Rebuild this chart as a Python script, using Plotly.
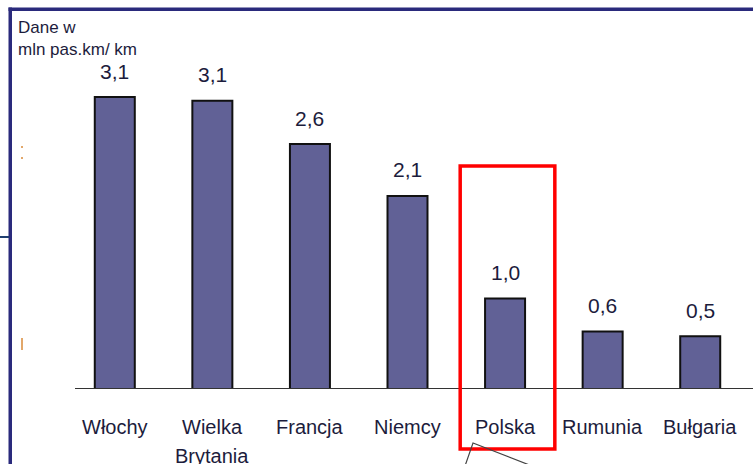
import plotly.graph_objects as go

categories = ["Włochy", "Wielka<br>Brytania", "Francja", "Niemcy", "Polska", "Rumunia", "Bułgaria"]
values = [3.1, 3.06, 2.6, 2.05, 0.96, 0.61, 0.56]
value_labels = ["3,1", "3,1", "2,6", "2,1", "1,0", "0,6", "0,5"]
title_lines = ["Dane w", "mln pas.km/ km"]
highlight = "Polska"

W, H = 753, 464
FONT = "Liberation Sans, Arial, sans-serif"
TXT = "#1c1c3c"
NAVY = "#2a2a7c"


def px(x):
    return x / W


def py(y):
    return 1 - y / H


x_idx = list(range(len(categories)))

fig = go.Figure()
fig.add_trace(go.Bar(
    x=x_idx, y=values, width=0.41,
    marker=dict(color="#616196", line=dict(color="#111111", width=2)),
    hoverinfo="skip",
))

annotations = []
for i, (v, lab) in enumerate(zip(values, value_labels)):
    annotations.append(dict(x=i, y=v, xref="x", yref="y", text=lab, showarrow=False,
                            yanchor="middle", yshift=26,
                            font=dict(family=FONT, size=21, color=TXT)))
for i, c in enumerate(categories):
    for k, line in enumerate(c.split("<br>")):
        annotations.append(dict(x=i, y=0, xref="x", yref="y", text=line, showarrow=False,
                                yanchor="middle", yshift=-38 - 29 * k,
                                font=dict(family=FONT, size=20, color=TXT)))
annotations.append(dict(x=px(16), y=py(16), xref="paper", yref="paper",
                        text="<br>".join(title_lines), showarrow=False,
                        xanchor="left", yanchor="top", align="left",
                        font=dict(family=FONT, size=17, color=TXT)))

hi = categories.index(highlight)
shapes = [
    # frame: top edge and left edge
    dict(type="rect", xref="paper", yref="paper", x0=px(8.5), x1=1, y0=py(11), y1=py(7.5),
         line=dict(width=0), fillcolor=NAVY, layer="above"),
    dict(type="rect", xref="paper", yref="paper", x0=px(8.5), x1=px(12), y0=0, y1=py(7.5),
         line=dict(width=0), fillcolor=NAVY, layer="above"),
    dict(type="line", xref="paper", yref="paper", x0=0, x1=px(9), y0=py(237), y1=py(237),
         line=dict(color="#1f3f6f", width=2)),
    dict(type="line", xref="paper", yref="paper", x0=px(22), x1=px(22), y0=py(338), y1=py(350),
         line=dict(color="#e2a76a", width=2)),
    dict(type="line", xref="paper", yref="paper", x0=px(22), x1=px(22), y0=py(146), y1=py(148),
         line=dict(color="#e2a76a", width=2)),
    dict(type="line", xref="paper", yref="paper", x0=px(22), x1=px(22), y0=py(157), y1=py(159),
         line=dict(color="#e2a76a", width=2)),
    dict(type="line", xref="paper", yref="y", x0=px(75), x1=1, y0=0, y1=0,
         line=dict(color="#333333", width=2)),
    dict(type="rect", xref="x", yref="paper", x0=hi - 0.46, x1=hi + 0.51, y0=py(449), y1=py(166),
         line=dict(color="#ff0000", width=3.5), fillcolor="rgba(0,0,0,0)"),
    dict(type="path", xref="paper", yref="paper",
         path=f"M {px(465)} {py(466)} L {px(473)} {py(443)} L {px(532)} {py(466)}",
         line=dict(color="#444444", width=1.2)),
]

fig.update_layout(
    width=W, height=H,
    margin=dict(l=0, r=0, t=0, b=0),
    paper_bgcolor="white", plot_bgcolor="white",
    showlegend=False,
    xaxis=dict(domain=[px(66), px(749)], range=[-0.5, len(categories) - 0.5],
               showticklabels=False, showgrid=False, zeroline=False, showline=False, ticks=""),
    yaxis=dict(domain=[py(389), py(40.5)], range=[0, 3.7],
               showticklabels=False, showgrid=False, zeroline=False, showline=False, ticks=""),
    annotations=annotations,
    shapes=shapes,
)

fig.write_html("out.html",
               config={"displayModeBar": False},
               post_script="document.body.style.margin='0';document.body.style.overflow='hidden';")
